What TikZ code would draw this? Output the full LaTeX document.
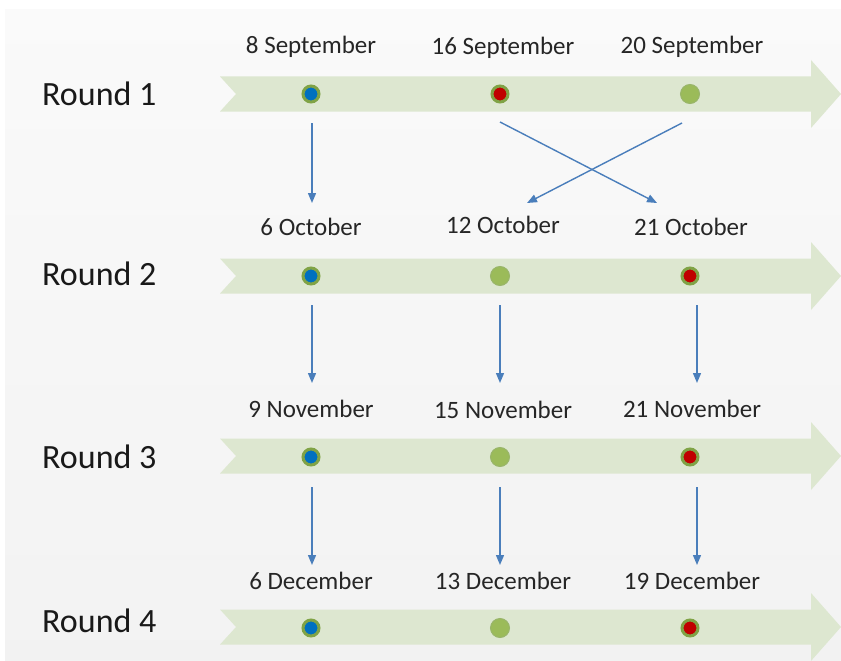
\documentclass[tikz,border=0pt]{standalone}
\usepackage{fontspec}
\setmainfont{Carlito}
\definecolor{BandGreen}{RGB}{221,231,208}
\definecolor{DotGreen}{RGB}{155,187,89}
\definecolor{RingGreen}{RGB}{128,163,70}
\definecolor{DotBlue}{RGB}{0,112,192}
\definecolor{DotRed}{RGB}{192,0,0}
\definecolor{FlowBlue}{RGB}{74,126,187}
\usepackage{tikz}
\usetikzlibrary{arrows.meta, positioning, calc}

\begin{document}
\begin{tikzpicture}[x=1pt, y=-1pt,
  band/.style={fill=BandGreen},
  dotplain/.style={circle, fill=DotGreen, draw=RingGreen!80, line width=1pt, minimum size=19pt, inner sep=0pt},
  dotblue/.style={circle, fill=DotBlue, draw=RingGreen, line width=3pt, minimum size=16pt, inner sep=0pt},
  dotred/.style={circle, fill=DotRed, draw=RingGreen, line width=3pt, minimum size=16pt, inner sep=0pt},
  datelabel/.style={anchor=base, inner sep=0pt, font=\fontsize{25}{30}\selectfont, text=black!85},
  roundlabel/.style={anchor=base west, inner sep=0pt, font=\fontsize{34}{40}\selectfont, text=black!90},
  flow/.style={draw=FlowBlue, line width=1.4pt, -{Triangle[length=10pt,width=8pt]}}
]
\useasboundingbox (0,0) rectangle (841,661);
\fill[white] (0,0) rectangle (841,661);
\shade[top color=black!2, bottom color=black!5] (5,10) rectangle (841,661);

% timeline bands
\foreach \c in {94,276,456,627}
  \fill[band] (220,\c-17.5) -- (811,\c-17.5) -- (811,\c-34) -- (841,\c)
    -- (811,\c+34) -- (811,\c+17.5) -- (220,\c+17.5) -- (236,\c) -- cycle;

% round names
\node[roundlabel] (round1) at (42,105) {Round 1};
\node[roundlabel] (round2) at (42,285) {Round 2};
\node[roundlabel] (round3) at (42,468) {Round 3};
\node[roundlabel] (round4) at (42,632) {Round 4};

% dates
\node[datelabel] (l1a) at (311,54) {8 September};
\node[datelabel] (l1b) at (503,55) {16 September};
\node[datelabel] (l1c) at (692,54) {20 September};
\node[datelabel] (l2a) at (311,235) {6 October};
\node[datelabel] (l2b) at (503,233) {12 October};
\node[datelabel] (l2c) at (691,235) {21 October};
\node[datelabel] (l3a) at (311,417) {9 November};
\node[datelabel] (l3b) at (503,418) {15 November};
\node[datelabel] (l3c) at (692,417) {21 November};
\node[datelabel] (l4a) at (311,589) {6 December};
\node[datelabel] (l4b) at (503,589) {13 December};
\node[datelabel] (l4c) at (692,589) {19 December};

% markers
\node[dotblue]  (r1a) at (311,94) {};
\node[dotred]   (r1b) at (500,94) {};
\node[dotplain] (r1c) at (690,94) {};
\node[dotblue]  (r2a) at (311,276) {};
\node[dotplain] (r2b) at (500,276) {};
\node[dotred]   (r2c) at (690,276) {};
\node[dotblue]  (r3a) at (311,457) {};
\node[dotplain] (r3b) at (500,457) {};
\node[dotred]   (r3c) at (690,457) {};
\node[dotblue]  (r4a) at (311,628) {};
\node[dotplain] (r4b) at (500,628) {};
\node[dotred]   (r4c) at (690,628) {};

% moves between rounds
\draw[flow, shorten <=29pt, shorten >=73pt] ([xshift=1pt]r1a.center) -- ([xshift=1pt]r2a.center);
\draw[flow] ([yshift=-28pt]r1b.center) -- ([xshift=-33pt,yshift=73pt]r2c.center);
\draw[flow] ([xshift=-8pt,yshift=-29pt]r1c.center) -- ([xshift=27pt,yshift=73pt]r2b.center);

\draw[flow, shorten <=29pt, shorten >=74pt] ([xshift=1pt]r2a.center) -- ([xshift=1pt]r3a.center);
\draw[flow, shorten <=29pt, shorten >=74pt] (r2b.center) -- (r3b.center);
\draw[flow, shorten <=29pt, shorten >=74pt] ([xshift=7pt]r2c.center) -- ([xshift=7pt]r3c.center);

\draw[flow, shorten <=30pt, shorten >=63pt] ([xshift=1pt]r3a.center) -- ([xshift=1pt]r4a.center);
\draw[flow, shorten <=30pt, shorten >=63pt] (r3b.center) -- (r4b.center);
\draw[flow, shorten <=30pt, shorten >=63pt] ([xshift=7pt]r3c.center) -- ([xshift=7pt]r4c.center);
\end{tikzpicture}
\end{document}
